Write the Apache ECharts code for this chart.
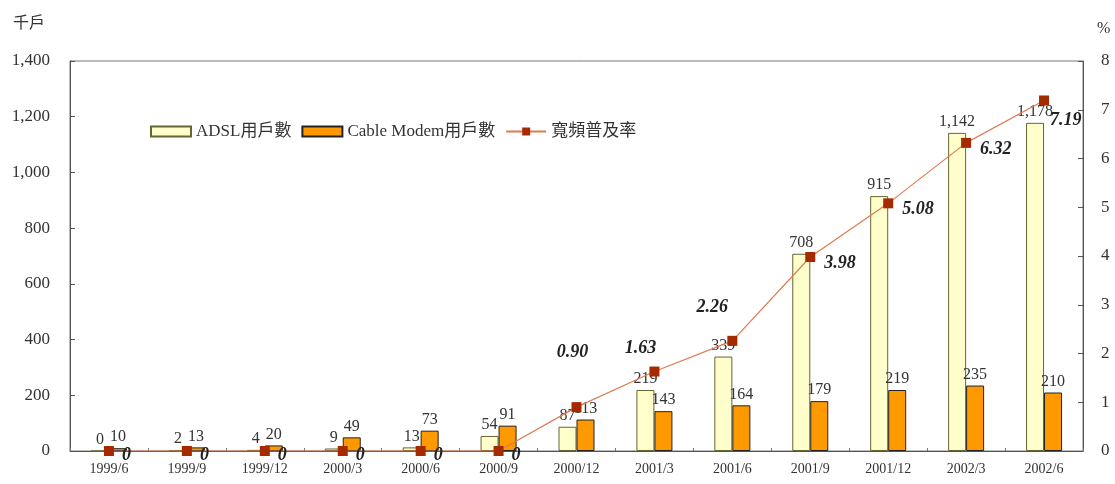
<!DOCTYPE html>
<html>
<head>
<meta charset="utf-8">
<script src="https://cdn.jsdelivr.net/npm/echarts@6/dist/echarts.min.js"></script>
<style>html,body{margin:0;padding:0;background:#fff}#c{width:1115px;height:484px}</style>
</head>
<body>
<div id="c"></div>
<script>
const categories = ['1999/6','1999/9','1999/12','2000/3','2000/6','2000/9','2000/12','2001/3','2001/6','2001/9','2001/12','2002/3','2002/6'];
const adsl = [0, 2, 4, 9, 13, 54, 87, 219, 339, 708, 915, 1142, 1178];
const cable = [10, 13, 20, 49, 73, 91, 113, 143, 164, 179, 219, 235, 210];
const rate = [0, 0, 0, 0, 0, 0, 0.90, 1.63, 2.26, 3.98, 5.08, 6.32, 7.19];
const leftTicks = [0, 200, 400, 600, 800, 1000, 1200, 1400];
const rightTicks = [0, 1, 2, 3, 4, 5, 6, 7, 8];

const serif = '"Liberation Serif","Times New Roman","Noto Sans CJK TC",serif';
const fmt = v => Number(v).toLocaleString('en-US');

// label placement for the rate line (style, by index)
function rateLabel(i, v) {
  if (v === 0) return { position: 'right', offset: [3, 4] };
  if (i === 6) return { position: 'top', offset: [-4, -36] };
  if (i === 7) return { position: 'top', offset: [-14, -4] };
  if (i === 8) return { position: 'top', offset: [-20, -14] };
  if (i === 12) return { position: 'right', offset: [-4, 20] };
  return { position: 'right', offset: [4, 6] };
}
const rateData = rate.map((v, i) => ({ value: v, label: rateLabel(i, v) }));

const chart = echarts.init(document.getElementById('c'));
chart.setOption({
  animation: false,
  backgroundColor: '#fff',
  textStyle: { fontFamily: serif },
  grid: { left: 70, right: 32, top: 61, bottom: 33, show: true, borderColor: '#777', borderWidth: 1 },
  legend: {
    left: 145, top: 118, itemWidth: 40, itemHeight: 10, itemGap: 10,
    textStyle: { fontFamily: serif, fontSize: 17, color: '#333' },
    data: [
      { name: 'ADSL用戶數', icon: 'rect' },
      { name: 'Cable Modem用戶數', icon: 'rect' },
      { name: '寬頻普及率' }
    ]
  },
  graphic: [
    { type: 'text', left: 13, top: 14, style: { text: '千戶', font: '16px "Noto Sans CJK TC",sans-serif', fill: '#333' } },
    { type: 'text', left: 1097, top: 21, style: { text: '%', font: '16px ' + serif, fill: '#333' } }
  ],
  xAxis: {
    type: 'category', data: categories, boundaryGap: true,
    axisLine: { lineStyle: { color: '#555' } },
    axisTick: { show: true, inside: true, length: 3, lineStyle: { color: '#777' } },
    axisLabel: { fontFamily: serif, fontSize: 14, color: '#333', margin: 11, interval: 0 }
  },
  yAxis: [
    {
      type: 'value', min: leftTicks[0], max: leftTicks[leftTicks.length - 1], interval: leftTicks[1] - leftTicks[0],
      axisLine: { show: true, lineStyle: { color: '#555' } },
      axisTick: { show: true, inside: true, length: 5, lineStyle: { color: '#555' } },
      splitLine: { show: false },
      axisLabel: { fontFamily: serif, fontSize: 17, color: '#333', margin: 20, formatter: v => fmt(v) }
    },
    {
      type: 'value', min: rightTicks[0], max: rightTicks[rightTicks.length - 1], interval: rightTicks[1] - rightTicks[0],
      axisLine: { show: true, lineStyle: { color: '#555' } },
      axisTick: { show: true, inside: true, length: 5, lineStyle: { color: '#555' } },
      splitLine: { show: false },
      axisLabel: { fontFamily: serif, fontSize: 17, color: '#333', margin: 18 }
    }
  ],
  series: [
    {
      name: 'ADSL用戶數', type: 'bar', data: adsl, barWidth: 18, barGap: '0%',
      itemStyle: { color: '#ffffcc', borderColor: '#666633', borderWidth: 1 },
      label: { show: true, position: 'top', distance: 3, fontFamily: serif, fontSize: 16, color: '#333', formatter: p => fmt(p.value) }
    },
    {
      name: 'Cable Modem用戶數', type: 'bar', data: cable, barWidth: 18, barGap: '0%',
      itemStyle: { color: '#ff9900', borderColor: '#222', borderWidth: 1 },
      label: { show: true, position: 'top', distance: 3, fontFamily: serif, fontSize: 16, color: '#333', formatter: p => fmt(p.value) }
    },
    {
      name: '寬頻普及率', type: 'line', yAxisIndex: 1, data: rateData, z: 5,
      symbol: 'rect', symbolSize: 10,
      itemStyle: { color: '#a52a00' },
      lineStyle: { color: '#e07a50', width: 1.2 },
      label: {
        show: true, fontFamily: serif, fontSize: 18, fontWeight: 'bold', fontStyle: 'italic', color: '#222',
        formatter: p => p.value === 0 ? '0' : p.value.toFixed(2)
      }
    }
  ]
});
</script>
</body>
</html>
